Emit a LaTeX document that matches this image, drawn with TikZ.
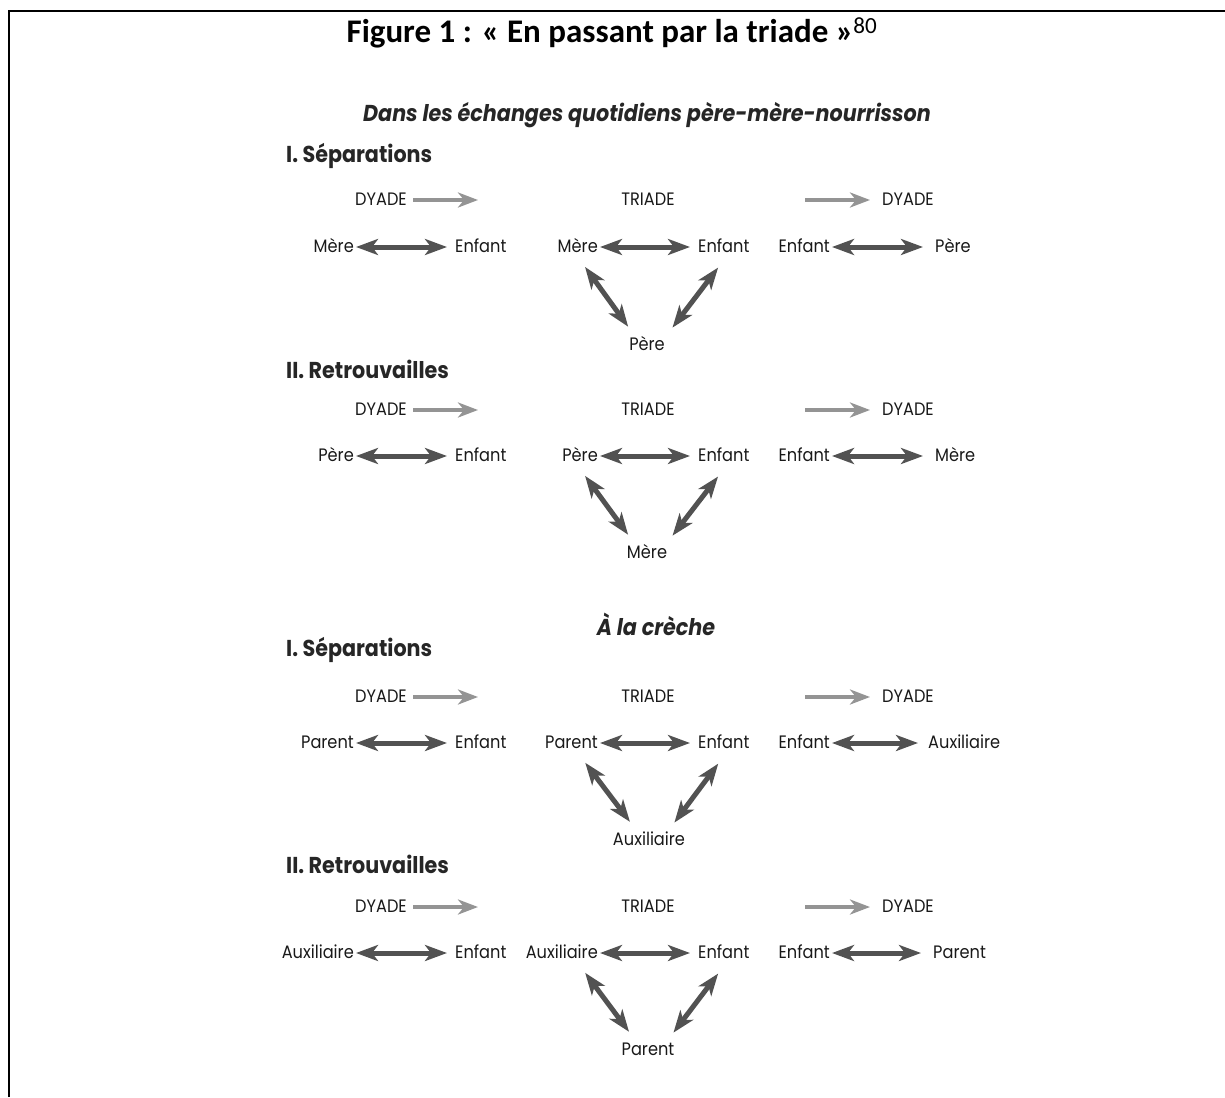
\documentclass[tikz,border=0pt]{standalone}
\usepackage{fontspec}
\setmainfont{Carlito}
\newfontfamily\futfont{Poppins}[FakeStretch=0.9]
\usepackage{tikz}
\usetikzlibrary{positioning, arrows.meta}

\begin{document}
\begin{tikzpicture}[x=1pt, y=-1pt,
            lbl/.style={font=\futfont\fontsize{18}{21}\selectfont, text=black!90, inner sep=2pt, text height=13pt, text depth=3pt},
            lblleft/.style={lbl, anchor=east},
            lblright/.style={lbl, anchor=west},
            head/.style={font=\futfont\bfseries\fontsize{23}{27}\selectfont, text=black!85, anchor=west, inner sep=0pt},
            topic/.style={font=\futfont\bfseries\itshape\fontsize{23}{27}\selectfont, text=black!85, inner sep=0pt},
            dbl/.style={{Stealth[length=22pt, width=16pt, inset=6pt]}-{Stealth[length=22pt, width=16pt, inset=6pt]}, line width=5pt, draw=black!68},
            one/.style={-{Stealth[length=20pt, width=15pt, inset=6pt]}, line width=4.5pt, draw=black!42}
        ]
            \useasboundingbox (0,0) rectangle (1225,1097);
            \draw[line width=2.5pt] (9,1097) -- (9,11) -- (1225,11);
            
            \node[font=\bfseries\fontsize{33}{38}\selectfont] (title) at (612,33) {Figure 1 : « En passant par la triade »\textsuperscript{\mdseries 80}};
            \node[topic] (daily) at (647,115) {Dans les échanges quotidiens père-mère-nourrisson};
            
            \node[head] (sepA) at (286,156) {I. Séparations};
            \node[lblleft] (dyadAl) at (409,200) {DYADE};
            \coordinate (dyadAlend) at (478,200);
            \node[lbl] (triadA) at (648,200) {TRIADE};
            \coordinate (dyadArstart) at (805,200);
            \node[lblright] (dyadAr) at (880,200) {DYADE};
            \node[lblleft] (mereA1) at (356,247) {Mère};
            \node[lblright] (enfA1) at (453,247) {Enfant};
            \node[lblleft] (mereA2) at (600,247) {Mère};
            \node[lblright] (enfA2) at (696,247) {Enfant};
            \node[lbl] (pereA2) at (647,345) {Père};
            \node[lblleft] (enfA3) at (832,247) {Enfant};
            \node[lblright] (pereA3) at (933,247) {Père};
            
            \draw[one, shorten <=4pt] (dyadAl) -- (dyadAlend);
            \draw[one, shorten >=10pt] (dyadArstart) -- (dyadAr);
            \draw[dbl, shorten >=6pt] (mereA1) -- (enfA1);
            \draw[dbl, shorten >=6pt] (mereA2) -- (enfA2);
            \draw[dbl, shorten <=12pt, shorten >=10pt] ([xshift=-22pt]mereA2.south east) -- ([xshift=-13pt]pereA2.north);
            \draw[dbl, shorten <=13pt, shorten >=9pt] ([xshift=30pt]enfA2.south west) -- ([xshift=20pt]pereA2.north);
            \draw[dbl, shorten >=10pt] (enfA3) -- (pereA3);
            
            \node[head] (retB) at (286,369) {II. Retrouvailles};
            \node[lblleft] (dyadBl) at (409,410) {DYADE};
            \coordinate (dyadBlend) at (478,410);
            \node[lbl] (triadB) at (648,410) {TRIADE};
            \coordinate (dyadBrstart) at (805,410);
            \node[lblright] (dyadBr) at (880,410) {DYADE};
            \node[lblleft] (pereB1) at (356,456) {Père};
            \node[lblright] (enfB1) at (453,456) {Enfant};
            \node[lblleft] (pereB2) at (600,456) {Père};
            \node[lblright] (enfB2) at (696,456) {Enfant};
            \node[lbl] (mereB2) at (647,553) {Mère};
            \node[lblleft] (enfB3) at (832,456) {Enfant};
            \node[lblright] (mereB3) at (933,456) {Mère};
            
            \draw[one, shorten <=4pt] (dyadBl) -- (dyadBlend);
            \draw[one, shorten >=10pt] (dyadBrstart) -- (dyadBr);
            \draw[dbl, shorten >=6pt] (pereB1) -- (enfB1);
            \draw[dbl, shorten >=6pt] (pereB2) -- (enfB2);
            \draw[dbl, shorten <=12pt, shorten >=10pt] ([xshift=-22pt]pereB2.south east) -- ([xshift=-13pt]mereB2.north);
            \draw[dbl, shorten <=13pt, shorten >=9pt] ([xshift=30pt]enfB2.south west) -- ([xshift=20pt]mereB2.north);
            \draw[dbl, shorten >=10pt] (enfB3) -- (mereB3);
            
            \node[topic] (creche) at (656,624) {À la crèche};
            
            \node[head] (sepC) at (286,650) {I. Séparations};
            \node[lblleft] (dyadCl) at (409,697) {DYADE};
            \coordinate (dyadClend) at (478,697);
            \node[lbl] (triadC) at (648,697) {TRIADE};
            \coordinate (dyadCrstart) at (805,697);
            \node[lblright] (dyadCr) at (880,697) {DYADE};
            \node[lblleft] (parC1) at (356,743) {Parent};
            \node[lblright] (enfC1) at (453,743) {Enfant};
            \node[lblleft] (parC2) at (600,743) {Parent};
            \node[lblright] (enfC2) at (696,743) {Enfant};
            \node[lbl] (auxC2) at (649,840) {Auxiliaire};
            \node[lblleft] (enfC3) at (832,743) {Enfant};
            \node[lblright] (auxC3) at (926,743) {Auxiliaire};
            
            \draw[one, shorten <=4pt] (dyadCl) -- (dyadClend);
            \draw[one, shorten >=10pt] (dyadCrstart) -- (dyadCr);
            \draw[dbl, shorten >=6pt] (parC1) -- (enfC1);
            \draw[dbl, shorten >=6pt] (parC2) -- (enfC2);
            \draw[dbl, shorten <=12pt, shorten >=10pt] ([xshift=-22pt]parC2.south east) -- ([xshift=-13pt]auxC2.north);
            \draw[dbl, shorten <=13pt, shorten >=9pt] ([xshift=30pt]enfC2.south west) -- ([xshift=20pt]auxC2.north);
            \draw[dbl, shorten >=8pt] (enfC3) -- (auxC3);
            
            \node[head] (retD) at (286,864) {II. Retrouvailles};
            \node[lblleft] (dyadDl) at (409,907) {DYADE};
            \coordinate (dyadDlend) at (478,907);
            \node[lbl] (triadD) at (648,907) {TRIADE};
            \coordinate (dyadDrstart) at (805,907);
            \node[lblright] (dyadDr) at (880,907) {DYADE};
            \node[lblleft] (auxD1) at (356,953) {Auxiliaire};
            \node[lblright] (enfD1) at (453,953) {Enfant};
            \node[lblleft] (auxD2) at (600,953) {Auxiliaire};
            \node[lblright] (enfD2) at (696,953) {Enfant};
            \node[lbl] (parD2) at (648,1050) {Parent};
            \node[lblleft] (enfD3) at (832,953) {Enfant};
            \node[lblright] (parD3) at (931,953) {Parent};
            
            \draw[one, shorten <=4pt] (dyadDl) -- (dyadDlend);
            \draw[one, shorten >=10pt] (dyadDrstart) -- (dyadDr);
            \draw[dbl, shorten >=6pt] (auxD1) -- (enfD1);
            \draw[dbl, shorten >=6pt] (auxD2) -- (enfD2);
            \draw[dbl, shorten <=12pt, shorten >=10pt] ([xshift=-22pt]auxD2.south east) -- ([xshift=-13pt]parD2.north);
            \draw[dbl, shorten <=13pt, shorten >=9pt] ([xshift=30pt]enfD2.south west) -- ([xshift=20pt]parD2.north);
            \draw[dbl, shorten >=10pt] (enfD3) -- (parD3);
            
        \end{tikzpicture}
\end{document}
